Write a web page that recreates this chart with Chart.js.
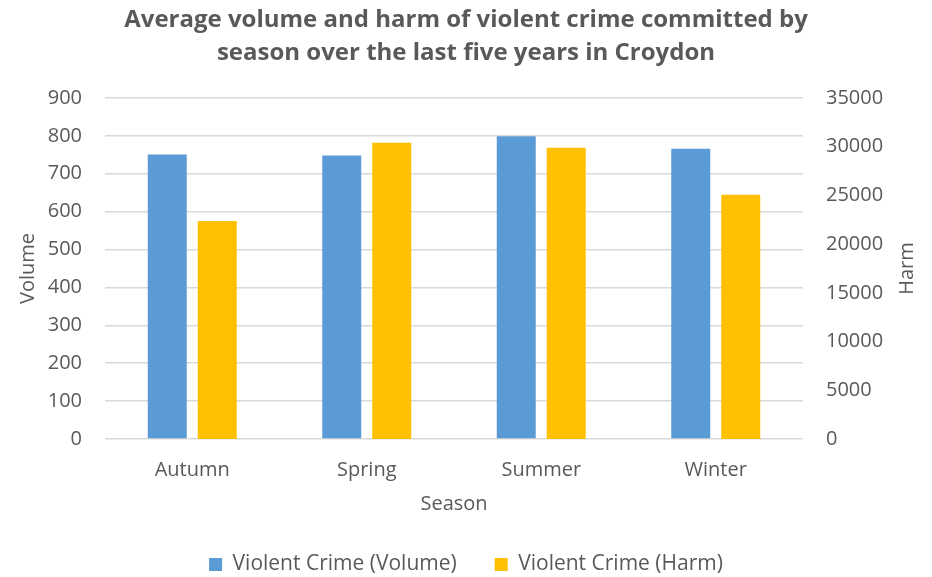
<!DOCTYPE html>
<html>
<head>
<meta charset="utf-8">
<script src="https://cdn.jsdelivr.net/npm/chart.js@4.4.1/dist/chart.umd.min.js"></script>
<style>
html,body{margin:0;padding:0;background:#fff;}
#wrap{width:932px;height:577px;position:relative;}
</style>
</head>
<body>
<div id="wrap"><canvas id="c" width="932" height="577"></canvas></div>
<script>
const seasons = ["Autumn", "Spring", "Summer", "Winter"];
const volumeValues = [751, 748, 799, 766];
const harmValues = [22380, 30410, 29900, 25080];
const volumeTicks = [0, 100, 200, 300, 400, 500, 600, 700, 800, 900];
const harmTicks = [0, 5000, 10000, 15000, 20000, 25000, 30000, 35000];
const rightTitle = 'Harm';

const TEXT = '#595959';
const FONT = '"Open Sans", "Noto Sans", sans-serif';

const rightTitlePlugin = {
  id: 'rightTitle',
  beforeLayout(chart) {
    const lg = chart.legend;
    if (lg && !lg._fixedFit) {
      const orig = lg.fit.bind(lg);
      lg.fit = function () { orig(); this.height = 61; };
      lg._fixedFit = true;
    }
  },
  afterDraw(chart) {
    const { ctx, chartArea } = chart;
    ctx.save();
    ctx.fillStyle = TEXT;
    ctx.font = '20px ' + FONT;
    ctx.textAlign = 'center';
    ctx.textBaseline = 'middle';
    ctx.translate(907, (chartArea.top + chartArea.bottom) / 2);
    ctx.rotate(-Math.PI / 2);
    ctx.fillText(rightTitle, 0, 0);
    ctx.restore();
  }
};

new Chart(document.getElementById('c'), {
  type: 'bar',
  data: {
    labels: seasons,
    datasets: [
      { label: 'Violent Crime (Volume)', data: volumeValues, backgroundColor: '#5B9BD5', yAxisID: 'y',
        categoryPercentage: 0.573, barPercentage: 0.78 },
      { label: 'Violent Crime (Harm)', data: harmValues, backgroundColor: '#FFC000', yAxisID: 'y1',
        categoryPercentage: 0.573, barPercentage: 0.78 }
    ]
  },
  plugins: [rightTitlePlugin],
  options: {
    responsive: false,
    animation: false,
    layout: { padding: { left: 0, right: 0, top: 0, bottom: 0 } },
    plugins: {
      title: {
        display: true,
        text: ['Average volume and harm of violent crime committed by', 'season over the last five years in Croydon'],
        color: TEXT,
        font: { family: FONT, size: 24, weight: 'bold', lineHeight: 1.375 },
        padding: { top: 4, bottom: 28 }
      },
      legend: {
        position: 'bottom',
        labels: { color: TEXT, font: { family: FONT, size: 21 }, boxWidth: 13, boxHeight: 13, padding: 38 }
      },
      tooltip: { enabled: false }
    },
    scales: {
      x: {
        grid: { display: false, drawTicks: false },
        border: { display: false },
        ticks: { color: TEXT, font: { family: FONT, size: 20 }, padding: 19, maxRotation: 0 },
        title: { display: true, text: 'Season', color: TEXT, font: { family: FONT, size: 20 }, padding: { top: 0, bottom: 0 } },
        afterFit: s => { s.height = 77; }
      },
      y: {
        position: 'left',
        min: 0, max: 900,
        afterBuildTicks: s => { s.ticks = volumeTicks.map(v => ({ value: v })); },
        grid: { color: '#D9D9D9', lineWidth: 1.5, drawTicks: false },
        border: { display: false },
        ticks: { color: TEXT, font: { family: FONT, size: 20 }, padding: 23, callback: v => String(v) },
        title: { display: true, text: 'Volume', color: TEXT, font: { family: FONT, size: 20 }, padding: { top: 16, bottom: 0 } },
        afterFit: s => { s.width = 105; }
      },
      y1: {
        position: 'right',
        min: 0, max: 35000,
        afterBuildTicks: s => { s.ticks = harmTicks.map(v => ({ value: v })); },
        grid: { display: false, drawTicks: false },
        border: { display: false },
        ticks: { color: TEXT, font: { family: FONT, size: 20 }, padding: 23, callback: v => String(v) },
        title: { display: false },
        afterFit: s => { s.width = 129; }
      }
    }
  }
});
</script>
</body>
</html>
